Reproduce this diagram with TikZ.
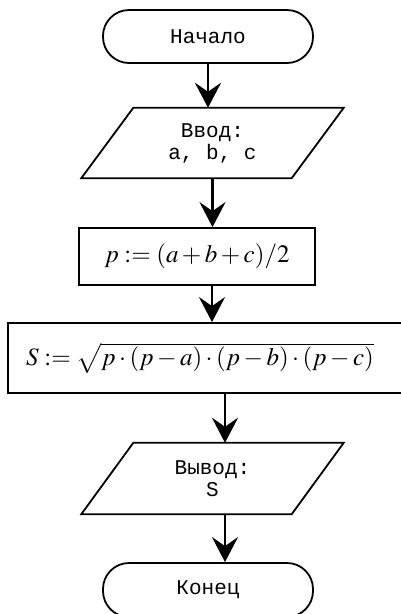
\documentclass[tikz,border=0pt]{standalone}
\usepackage{mathptmx}
\usepackage[no-math]{fontspec}
\newfontfamily\cour{Liberation Mono}
\usetikzlibrary{arrows.meta}
\tikzset{
  shp/.style={line width=1.8pt},
  term/.style={shp, draw, rounded corners=26pt, minimum width=210pt, minimum height=53pt, inner sep=0pt, font=\cour\fontsize{21}{22}\selectfont},
  iotext/.style={minimum width=210pt, minimum height=70pt, inner sep=0pt, align=center, font=\cour\fontsize{21}{22}\selectfont},
  procbox/.style={shp, draw, inner sep=0pt, font=\fontsize{25}{28}\selectfont},
  arr/.style={line width=2.6pt, -{Stealth[length=25pt,width=26pt,inset=9pt]}}
}
\begin{document}
\begin{tikzpicture}[x=1pt,y=-1pt]
\useasboundingbox (0,0) rectangle (401,614);
\node[term] (st) at (208,36.5) {Начало};
\node[iotext] (in) at (212.5,143) {Ввод:\\a, b, c};
\draw[shp] ([xshift=26pt]in.north west) -- ([xshift=26pt]in.north east) -- ([xshift=-26pt]in.south east) -- ([xshift=-26pt]in.south west) -- cycle;
\node[procbox, minimum width=236pt, minimum height=57pt] (p) at (197,256.5) {$p:=(a+b+c)/2$};
\node[procbox, minimum width=394pt, minimum height=70pt] (S) at (205,358) {$S:=\sqrt{p\cdot(p-a)\cdot(p-b)\cdot(p-c)}$\kern10pt};
\node[iotext, minimum height=71pt] (out) at (212.5,478.5) {Вывод:\\S};
\draw[shp] ([xshift=26pt]out.north west) -- ([xshift=26pt]out.north east) -- ([xshift=-26pt]out.south east) -- ([xshift=-26pt]out.south west) -- cycle;
\node[term, minimum height=54pt] (en) at (208,590) {Конец};
\draw[arr] (st.south) -- (st.south |- in.north);
\draw[arr] (in.south) -- (in.south |- p.north);
\draw[arr] ([xshift=15pt]p.south) -- ([xshift=15pt]p.south |- S.north);
\draw[arr] ([xshift=20pt]S.south) -- ([xshift=20pt]S.south |- out.north);
\draw[arr] ([xshift=12.5pt]out.south) -- ([xshift=12.5pt]out.south |- en.north);
\end{tikzpicture}
\end{document}
